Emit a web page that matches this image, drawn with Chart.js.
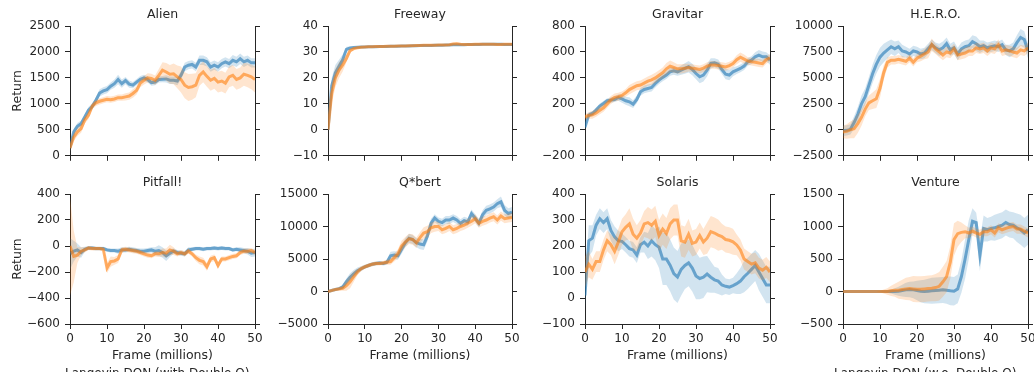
<!DOCTYPE html>
<html>
<head>
<meta charset="utf-8">
<script src="https://cdn.jsdelivr.net/npm/chart.js@4.4.0/dist/chart.umd.min.js"></script>
<style>
  html, body { margin: 0; padding: 0; background: #fff; overflow: hidden; }
  #fig { position: relative; width: 1034px; height: 386px; overflow: hidden; }
  canvas { position: absolute; }
</style>
</head>
<body>
<div id="fig"></div>
<script>
const frames = [0, 1, 2, 3, 4, 5, 6, 7, 8, 9, 10, 11, 12, 13, 14, 15, 16, 17, 18, 19, 20,
  21, 22, 23, 24, 25, 26, 27, 28, 29, 30, 31, 32, 33, 34, 35, 36, 37, 38, 39, 40,
  41, 42, 43, 44, 45, 46, 47, 48, 49, 50];

const games = ['Alien', 'Freeway', 'Gravitar', 'H.E.R.O.', 'Pitfall!', 'Q*bert', 'Solaris', 'Venture'];
const yMin = [0, -10, -200, -2500, -600, -5000, -100, -500];
const yMax = [2500, 40, 800, 10000, 400, 15000, 400, 1500];
const yStep = [500, 10, 200, 2500, 200, 5000, 100, 500];
const xTickStep = 10;
const seriesLabels = ['Langevin DQN (with Double Q)', 'Langevin DQN (w.o. Double Q)'];

// mean return and half-width of the shaded band, one value per million frames
const alienWith = [150, 460, 570, 620, 750, 880, 950, 1070, 1210, 1250, 1275,
  1340, 1390, 1470, 1390, 1450, 1380, 1360, 1420, 1475, 1500,
  1470, 1410, 1420, 1470, 1475, 1480, 1455, 1455, 1440, 1550,
  1710, 1745, 1760, 1710, 1840, 1840, 1810, 1710, 1745, 1710,
  1775, 1810, 1775, 1840, 1810, 1870, 1810, 1840, 1790, 1790];
const alienWithErr = [80, 60, 60, 60, 60, 60, 60, 60, 70, 70, 70,
  70, 80, 90, 80, 70, 70, 60, 60, 60, 60,
  60, 60, 60, 60, 60, 70, 70, 70, 80, 80,
  80, 80, 80, 80, 90, 90, 90, 90, 90, 90,
  90, 90, 90, 100, 100, 100, 100, 90, 90, 90];
const alienWo = [150, 360, 460, 525, 690, 780, 955, 1020, 1050, 1070, 1090,
  1080, 1095, 1120, 1120, 1135, 1150, 1200, 1260, 1400, 1455,
  1500, 1490, 1455, 1550, 1650, 1615, 1570, 1580, 1520, 1470,
  1360, 1315, 1330, 1360, 1550, 1615, 1530, 1455, 1490, 1420,
  1440, 1400, 1520, 1550, 1470, 1500, 1570, 1550, 1520, 1470];
const alienWoErr = [60, 80, 80, 80, 70, 70, 60, 60, 60, 60, 60,
  60, 60, 60, 60, 70, 70, 80, 80, 80, 80,
  90, 90, 90, 120, 150, 170, 180, 200, 220, 250,
  250, 260, 250, 230, 200, 200, 200, 200, 200, 200,
  200, 200, 200, 200, 200, 200, 220, 230, 240, 250];

const freewayWith = [0, 17, 22, 24.5, 27, 31, 31.5, 31.7, 31.8, 31.9, 31.9,
  32, 32, 32, 32.1, 32.1, 32.1, 32.2, 32.2, 32.2, 32.3,
  32.3, 32.3, 32.4, 32.4, 32.5, 32.5, 32.5, 32.5, 32.6, 32.6,
  32.6, 32.7, 32.7, 32.8, 32.8, 32.8, 32.8, 32.9, 32.9, 32.9,
  32.9, 33, 33, 33, 33, 33, 33, 32.9, 32.9, 32.9];
const freewayWithErr = [0.5, 3, 3, 2.5, 2, 1, 0.6, 0.5, 0.4, 0.4, 0.4,
  0.4, 0.4, 0.4, 0.4, 0.4, 0.4, 0.4, 0.4, 0.4, 0.4,
  0.4, 0.4, 0.4, 0.4, 0.4, 0.4, 0.4, 0.4, 0.4, 0.4,
  0.4, 0.4, 0.4, 0.4, 0.4, 0.4, 0.4, 0.4, 0.4, 0.4,
  0.4, 0.4, 0.4, 0.4, 0.4, 0.4, 0.4, 0.4, 0.4, 0.4];
const freewayWo = [0, 14, 20, 23, 25, 27.5, 30.5, 31.3, 31.6, 31.8, 31.9,
  32, 32, 32.1, 32.1, 32.1, 32.2, 32.2, 32.2, 32.3, 32.3,
  32.3, 32.4, 32.4, 32.5, 32.5, 32.6, 32.6, 32.6, 32.6, 32.7,
  32.7, 32.7, 32.8, 33.1, 33.2, 33, 32.9, 32.9, 32.9, 33,
  33, 33, 33, 33, 33, 32.9, 32.9, 33, 33, 33];
const freewayWoErr = [0.5, 4, 3.5, 3, 2.5, 1.5, 0.8, 0.5, 0.4, 0.4, 0.4,
  0.4, 0.4, 0.4, 0.4, 0.4, 0.4, 0.4, 0.4, 0.4, 0.4,
  0.4, 0.4, 0.4, 0.4, 0.4, 0.4, 0.4, 0.4, 0.4, 0.4,
  0.4, 0.4, 0.4, 0.4, 0.4, 0.4, 0.4, 0.4, 0.4, 0.4,
  0.4, 0.4, 0.4, 0.4, 0.4, 0.4, 0.4, 0.4, 0.4, 0.4];

const gravitarWith = [20, 113, 126, 152, 183, 203, 224, 229, 234, 249, 239,
  224, 216, 198, 234, 293, 311, 319, 326, 357, 383,
  404, 422, 447, 455, 447, 460, 473, 486, 465, 434,
  409, 422, 460, 512, 517, 506, 465, 429, 422, 447,
  460, 473, 491, 524, 537, 563, 576, 563, 563, 537];
const gravitarWithErr = [20, 20, 20, 20, 20, 20, 20, 20, 20, 25, 30,
  30, 35, 30, 30, 30, 30, 30, 30, 30, 30,
  30, 30, 30, 30, 30, 35, 40, 45, 45, 45,
  50, 50, 50, 40, 35, 35, 35, 40, 40, 35,
  30, 30, 30, 30, 30, 35, 40, 40, 35, 35];
const gravitarWo = [100, 110, 115, 130, 150, 170, 200, 230, 250, 255, 265,
  285, 310, 325, 340, 345, 360, 375, 385, 400, 420,
  440, 470, 490, 480, 470, 470, 475, 480, 475, 470,
  465, 475, 490, 500, 500, 495, 490, 485, 495, 510,
  540, 560, 545, 530, 525, 520, 515, 510, 540, 555];
const gravitarWoErr = [20, 25, 30, 30, 30, 30, 30, 30, 30, 30, 30,
  30, 35, 35, 35, 35, 35, 35, 40, 40, 40,
  40, 45, 45, 40, 35, 35, 35, 30, 30, 30,
  30, 30, 30, 30, 30, 30, 30, 30, 30, 30,
  35, 35, 35, 30, 30, 30, 30, 30, 30, 30];

const heroWith = [-100, -50, 50, 700, 1500, 2500, 3200, 4300, 5400, 6300, 7000,
  7400, 7700, 8000, 7800, 8000, 7600, 7500, 7300, 7600, 7500,
  7300, 7400, 7800, 8200, 7900, 7700, 7900, 8300, 7700, 7900,
  7300, 7800, 8000, 8100, 8500, 8300, 8000, 8100, 7900, 8000,
  8100, 8000, 8200, 7700, 7600, 7800, 8400, 8900, 8700, 7600];
const heroWithErr = [500, 500, 500, 600, 700, 800, 800, 800, 900, 900, 900,
  900, 800, 700, 700, 600, 600, 500, 500, 500, 500,
  500, 500, 500, 500, 500, 600, 600, 600, 600, 600,
  600, 600, 600, 600, 600, 700, 600, 500, 500, 500,
  500, 500, 500, 500, 600, 600, 700, 800, 800, 700];
const heroWo = [-200, -150, 0, 100, 600, 1200, 2000, 2600, 2800, 3000, 4000,
  5500, 6500, 6700, 6700, 6800, 6700, 6600, 6900, 6500, 6900,
  7100, 7300, 7500, 8200, 7800, 7500, 7200, 7500, 7400, 7800,
  7200, 7300, 7400, 7600, 7600, 7900, 7800, 7900, 7600, 7900,
  7800, 8200, 7600, 7700, 7600, 7500, 7400, 7700, 7600, 7900];
const heroWoErr = [600, 700, 800, 900, 900, 800, 700, 700, 800, 900, 900,
  700, 500, 400, 400, 400, 400, 400, 400, 400, 400,
  500, 500, 600, 600, 500, 500, 500, 500, 500, 500,
  500, 500, 500, 500, 500, 500, 500, 500, 500, 500,
  500, 500, 500, 500, 500, 500, 500, 500, 500, 500];

const pitfallWith = [-60, -40, -30, -50, -25, -15, -15, -20, -20, -20, -30,
  -35, -35, -40, -30, -30, -25, -30, -35, -40, -40,
  -35, -30, -40, -35, -50, -75, -55, -40, -50, -55,
  -60, -30, -25, -20, -20, -25, -20, -20, -15, -20,
  -15, -20, -20, -30, -25, -30, -35, -40, -55, -50];
const pitfallWithErr = [120, 80, 50, 40, 20, 15, 15, 15, 15, 15, 15,
  15, 15, 20, 20, 20, 20, 20, 20, 20, 20,
  20, 20, 30, 40, 40, 40, 30, 20, 20, 20,
  20, 20, 15, 15, 15, 15, 15, 15, 15, 15,
  15, 15, 15, 15, 15, 20, 20, 25, 30, 30];
const pitfallWo = [0, -80, -70, -40, -30, -15, -20, -20, -20, -25, -170,
  -120, -115, -100, -30, -25, -30, -35, -40, -50, -60,
  -70, -75, -60, -60, -50, -55, -30, -40, -60, -50,
  -60, -40, -60, -90, -110, -120, -160, -100, -90, -150,
  -100, -100, -90, -80, -75, -50, -40, -40, -35, -50];
const pitfallWoErr = [380, 200, 60, 30, 20, 15, 15, 15, 15, 15, 40,
  40, 30, 30, 20, 20, 20, 20, 20, 20, 20,
  20, 20, 20, 25, 30, 35, 40, 30, 20, 20,
  20, 20, 20, 25, 30, 30, 30, 25, 25, 25,
  20, 20, 20, 20, 20, 20, 20, 20, 20, 20];

const qbertWith = [0, 150, 300, 450, 700, 1500, 2200, 2700, 3200, 3500, 3800,
  4000, 4200, 4300, 4400, 4300, 4500, 5500, 5600, 5500, 6500,
  7500, 8200, 8000, 7500, 7300, 7200, 8500, 10500, 11300, 10800,
  10600, 11000, 11000, 11300, 11000, 10500, 10900, 10700, 12000, 11300,
  10500, 11800, 12500, 12700, 13000, 13500, 13800, 12500, 12000, 12200];
const qbertWithErr = [100, 100, 150, 200, 300, 500, 600, 600, 500, 400, 300,
  300, 300, 300, 300, 300, 400, 600, 600, 600, 700,
  700, 700, 700, 700, 800, 800, 800, 700, 600, 600,
  600, 600, 600, 600, 600, 600, 600, 600, 600, 600,
  600, 700, 700, 700, 700, 700, 800, 800, 800, 800];
const qbertWo = [0, 150, 300, 400, 500, 900, 1500, 2300, 3000, 3500, 3800,
  4000, 4200, 4300, 4300, 4400, 4500, 4600, 5200, 5800, 7000,
  7600, 8100, 8000, 7500, 8300, 9000, 9200, 9800, 10000, 10000,
  9500, 9700, 10000, 9500, 9700, 10000, 10200, 10500, 10800, 11200,
  10500, 10800, 11000, 11300, 11500, 11000, 11600, 11200, 11300, 11400];
const qbertWoErr = [100, 100, 150, 200, 400, 800, 1000, 800, 500, 400, 300,
  300, 300, 300, 300, 300, 400, 500, 600, 700, 800,
  800, 800, 800, 800, 800, 900, 900, 800, 800, 700,
  700, 700, 700, 700, 700, 700, 700, 700, 700, 700,
  700, 700, 700, 700, 700, 700, 700, 700, 700, 700];

const solarisWith = [10, 220, 230, 280, 305, 290, 305, 260, 235, 220, 218,
  205, 190, 185, 165, 205, 215, 200, 220, 205, 195,
  150, 150, 126, 94, 81, 110, 125, 135, 115, 85,
  75, 80, 92, 80, 70, 65, 50, 45, 42, 48,
  55, 65, 82, 95, 110, 125, 100, 75, 50, 50];
const solarisWithErr = [50, 60, 50, 40, 40, 40, 40, 40, 40, 40, 30,
  30, 30, 30, 30, 30, 40, 50, 60, 60, 80,
  100, 100, 100, 100, 100, 100, 90, 90, 90, 90,
  80, 80, 70, 60, 50, 50, 40, 30, 30, 30,
  40, 50, 60, 60, 60, 60, 70, 70, 70, 70];
const solarisWo = [100, 130, 110, 140, 140, 185, 220, 205, 180, 215, 255,
  272, 285, 245, 230, 250, 285, 290, 280, 295, 240,
  265, 248, 285, 300, 300, 220, 215, 245, 210, 215,
  240, 215, 230, 255, 250, 242, 236, 225, 222, 216,
  204, 185, 150, 140, 130, 135, 115, 107, 118, 100];
const solarisWoErr = [60, 50, 40, 40, 40, 40, 40, 40, 50, 50, 50,
  50, 60, 60, 50, 50, 50, 60, 60, 60, 60,
  60, 60, 60, 60, 60, 60, 60, 60, 50, 50,
  50, 50, 60, 60, 60, 60, 50, 50, 50, 50,
  40, 40, 40, 40, 40, 40, 40, 40, 40, 40];

const ventureWith = [0, 0, 0, 0, 0, 0, 0, 0, 0, 0, 0,
  0, 0, 0, 0, 5, 15, 25, 30, 25, 15,
  5, 0, 5, 10, 15, 20, 25, 20, 10, 5,
  40, 230, 500, 800, 1080, 1060, 560, 970, 950, 970,
  980, 1000, 1020, 1060, 1030, 1020, 980, 950, 900, 950];
const ventureWithErr = [0, 0, 0, 0, 0, 0, 0, 0, 0, 0, 5,
  10, 20, 30, 50, 70, 90, 110, 120, 130, 150,
  170, 180, 190, 200, 200, 200, 200, 210, 220, 220,
  220, 250, 300, 300, 200, 150, 250, 200, 180, 180,
  200, 200, 200, 200, 200, 200, 220, 230, 230, 230];
const ventureWo = [0, 0, 0, 0, 0, 0, 0, 0, 0, 0, 0,
  0, 0, 10, 20, 20, 30, 40, 45, 40, 35,
  35, 40, 45, 50, 60, 80, 150, 230, 450, 800,
  890, 910, 920, 900, 930, 900, 880, 920, 920, 950,
  900, 980, 950, 970, 990, 1000, 960, 960, 930, 900];
const ventureWoErr = [0, 0, 0, 0, 0, 0, 0, 0, 0, 0, 10,
  30, 50, 80, 100, 130, 150, 170, 180, 200, 200,
  200, 200, 200, 200, 210, 220, 230, 240, 250, 250,
  200, 150, 100, 80, 70, 70, 70, 70, 70, 70,
  70, 70, 70, 70, 70, 70, 70, 70, 70, 70];

const withMeans = [alienWith, freewayWith, gravitarWith, heroWith, pitfallWith, qbertWith, solarisWith, ventureWith];
const withErrs = [alienWithErr, freewayWithErr, gravitarWithErr, heroWithErr, pitfallWithErr, qbertWithErr, solarisWithErr, ventureWithErr];
const woMeans = [alienWo, freewayWo, gravitarWo, heroWo, pitfallWo, qbertWo, solarisWo, ventureWo];
const woErrs = [alienWoErr, freewayWoErr, gravitarWoErr, heroWoErr, pitfallWoErr, qbertWoErr, solarisWoErr, ventureWoErr];

const ink = '#262626';
const blueLine = 'rgba(31, 119, 180, 0.6)';
const blueBand = 'rgba(31, 119, 180, 0.2)';
const orangeLine = 'rgba(255, 127, 14, 0.6)';
const orangeBand = 'rgba(255, 127, 14, 0.2)';

Chart.defaults.font.family = "'DejaVu Sans', sans-serif";
Chart.defaults.font.size = 12;
Chart.defaults.color = ink;

// plot area of each column / row, in page pixels
const plotLeft = [70, 328, 585, 843];
const plotRight = [255, 512, 770, 1028];
const rowTop = [26, 194];
const plotHeight = 130;
const sideW = 70;

const fig = document.getElementById('fig');

function makeCanvas(left, top, width, height) {
  const c = document.createElement('canvas');
  c.width = width;
  c.height = height;
  c.style.left = left + 'px';
  c.style.top = top + 'px';
  c.style.width = width + 'px';
  c.style.height = height + 'px';
  fig.appendChild(c);
  return c;
}

function points(mean, err, sign) {
  return frames.map((f, i) => ({ x: f, y: mean[i] + sign * err[i] }));
}

function lineSet(label, mean, color, order) {
  return {
    label: label,
    data: frames.map((f, i) => ({ x: f, y: mean[i] })),
    borderColor: color,
    borderWidth: 3,
    pointRadius: 0,
    tension: 0,
    fill: false,
    order: order,
  };
}

function bandSets(mean, err, color, order) {
  const edge = { borderWidth: 0, pointRadius: 0, tension: 0, order: order, label: '' };
  return [
    Object.assign({}, edge, { data: points(mean, err, 1), fill: '+1', backgroundColor: color }),
    Object.assign({}, edge, { data: points(mean, err, -1), fill: false }),
  ];
}

function fmt(v) {
  return String(v).replace('-', '\u2212');
}

function drawPanel(k) {
  const col = k % 4;
  const row = Math.floor(k / 4);
  const pw = plotRight[col] - plotLeft[col];
  const bottomH = row === 1 ? 46 : 12;
  const canvas = makeCanvas(plotLeft[col] - sideW, rowTop[row] - 26, pw + 2 * sideW, 26 + plotHeight + bottomH);

  const datasets = [
    lineSet(seriesLabels[0], withMeans[k], blueLine, 2),
    ...bandSets(withMeans[k], withErrs[k], blueBand, 3),
    lineSet(seriesLabels[1], woMeans[k], orangeLine, 0),
    ...bandSets(woMeans[k], woErrs[k], orangeBand, 1),
  ];

  const gridOpts = { display: true, drawOnChartArea: false, drawTicks: true, tickLength: 5, tickColor: ink, tickWidth: 1, color: ink };
  const borderOpts = { display: true, color: ink, width: 1 };

  new Chart(canvas, {
    type: 'line',
    data: { datasets },
    options: {
      responsive: false,
      animation: false,
      devicePixelRatio: 1,
      events: [],
      layout: { padding: { top: 7.5, left: 0, right: 0, bottom: 0 } },
      plugins: {
        legend: { display: false },
        tooltip: { enabled: false },
        title: {
          display: true,
          text: games[k],
          color: ink,
          font: { size: 12.5, weight: 'normal' },
          padding: { top: 0, bottom: 3.5 },
        },
      },
      scales: {
        x: {
          type: 'linear',
          position: 'bottom',
          min: 0,
          max: 50,
          ticks: { stepSize: xTickStep, display: row === 1, padding: 3, maxRotation: 0 },
          grid: gridOpts,
          border: borderOpts,
          title: {
            display: row === 1,
            text: 'Frame (millions)',
            color: ink,
            font: { size: 12.5 },
            padding: { top: 0, bottom: 7 },
          },
          afterFit: (s) => { s.height = bottomH; },
        },
        y: {
          position: 'left',
          min: yMin[k],
          max: yMax[k],
          ticks: { stepSize: yStep[k], padding: 5, callback: (v) => fmt(v) },
          grid: gridOpts,
          border: borderOpts,
          title: {
            display: col === 0,
            text: 'Return',
            color: ink,
            font: { size: 12.5 },
            padding: { top: 10.5, bottom: 0 },
          },
          afterFit: (s) => { s.width = sideW; },
        },
        y2: {
          position: 'right',
          min: yMin[k],
          max: yMax[k],
          ticks: { stepSize: yStep[k], display: false },
          grid: gridOpts,
          border: borderOpts,
          afterFit: (s) => { s.width = sideW; },
        },
      },
    },
  });
}

for (let k = 0; k < games.length; k++) {
  drawPanel(k);
}

// legend marker: a 26px line followed by a gap, so the label starts 36px after the line start
function legendMarker(color) {
  const c = document.createElement('canvas');
  c.width = 30;
  c.height = 6;
  const ctx = c.getContext('2d');
  ctx.strokeStyle = color;
  ctx.lineWidth = 3;
  ctx.beginPath();
  ctx.moveTo(0, 3);
  ctx.lineTo(26, 3);
  ctx.stroke();
  return c;
}

function drawLegend(left, top, label, color) {
  const canvas = makeCanvas(left, top, 260, 28);
  new Chart(canvas, {
    type: 'line',
    data: { datasets: [{ label: label, data: [], borderColor: color, backgroundColor: color, borderWidth: 3 }] },
    options: {
      responsive: false,
      animation: false,
      devicePixelRatio: 1,
      events: [],
      layout: { padding: { left: 19, top: 0 } },
      scales: { x: { display: false }, y: { display: false } },
      plugins: {
        tooltip: { enabled: false },
        legend: {
          position: 'top',
          align: 'start',
          labels: {
            usePointStyle: true,
            pointStyle: legendMarker(color),
            pointStyleWidth: 30,
            padding: 10,
            color: ink,
            font: { size: 12 },
          },
        },
      },
    },
  });
}

drawLegend(0, 358, seriesLabels[0], blueLine);
drawLegend(769, 358, seriesLabels[1], orangeLine);
</script>
</body>
</html>
